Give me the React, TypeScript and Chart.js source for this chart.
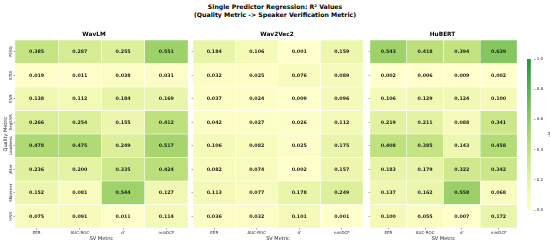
import React, { useEffect, useRef } from "react";
import { Chart, registerables } from "chart.js";

Chart.register(...registerables);

const W = 550;
const H = 245;
const FONT = "'DejaVu Sans', sans-serif";

const mainTitle = ["Single Predictor Regression: R\u00b2 Values", "(Quality Metric -> Speaker Verification Metric)"];
const qualityMetrics = ["PESQ", "STOI", "SNR", "SegSNR", "Loudness", "Jitter", "Shimmer", "HNR"];
const svMetrics = ["EER", "AUC-ROC", "d'", "minDCF"];
const modelNames = ["WavLM", "Wav2Vec2", "HuBERT"];

const wavlmValues = [
  [0.385, 0.287, 0.255, 0.551],
  [0.019, 0.011, 0.038, 0.031],
  [0.138, 0.112, 0.184, 0.169],
  [0.266, 0.254, 0.155, 0.412],
  [0.478, 0.475, 0.249, 0.517],
  [0.236, 0.2, 0.335, 0.424],
  [0.152, 0.081, 0.544, 0.127],
  [0.075, 0.091, 0.011, 0.114],
];
const wav2vec2Values = [
  [0.184, 0.106, 0.001, 0.159],
  [0.032, 0.025, 0.076, 0.089],
  [0.037, 0.024, 0.009, 0.096],
  [0.042, 0.027, 0.026, 0.112],
  [0.106, 0.082, 0.025, 0.175],
  [0.082, 0.074, 0.002, 0.157],
  [0.113, 0.077, 0.178, 0.249],
  [0.036, 0.032, 0.101, 0.001],
];
const hubertValues = [
  [0.543, 0.418, 0.394, 0.639],
  [0.002, 0.006, 0.009, 0.002],
  [0.106, 0.129, 0.124, 0.1],
  [0.219, 0.211, 0.088, 0.341],
  [0.408, 0.385, 0.143, 0.458],
  [0.183, 0.179, 0.322, 0.342],
  [0.137, 0.162, 0.558, 0.068],
  [0.1, 0.055, 0.007, 0.172],
];
const colorbarTicks = [0, 0.2, 0.4, 0.6, 0.8, 1.0];

const colorStops: [number, number[]][] = [
  [0.0, [255, 255, 204]],
  [0.1, [245, 250, 185]],
  [0.2, [229, 243, 165]],
  [0.3, [212, 235, 145]],
  [0.4, [193, 226, 127]],
  [0.5, [170, 215, 112]],
  [0.6, [145, 203, 100]],
  [0.7, [118, 190, 90]],
  [0.8, [90, 176, 80]],
  [0.9, [62, 162, 74]],
  [1.0, [35, 148, 70]],
];

function cmap(v: number): string {
  const t = Math.max(0, Math.min(1, v));
  for (let i = 0; i < colorStops.length - 1; i++) {
    const [a, ca] = colorStops[i];
    const [b, cb] = colorStops[i + 1];
    if (t <= b) {
      const f = (t - a) / (b - a);
      const c = ca.map((x, k) => Math.round(x + (cb[k] - x) * f));
      return `rgb(${c[0]},${c[1]},${c[2]})`;
    }
  }
  const c = colorStops[colorStops.length - 1][1];
  return `rgb(${c[0]},${c[1]},${c[2]})`;
}

// layout (pixels)
const panelBounds = [
  { left: 15, right: 188 },
  { left: 193, right: 363 },
  { left: 370, right: 517 },
];
const AREA_TOP = 40;
const AREA_BOTTOM = 228;
const X_AXIS_H = 15;
const TITLE_SIZE = 5.8;
const TITLE_PAD_BOTTOM = 2.5;
const TICK_SIZE = 4;

function annotPlugin(values: number[][]) {
  return {
    id: "annot",
    afterDatasetsDraw(chart: any) {
      const ctx = chart.ctx;
      ctx.save();
      ctx.font = `bold 4.8px ${FONT}`;
      ctx.fillStyle = "#1a1a1a";
      ctx.textAlign = "center";
      ctx.textBaseline = "middle";
      values.forEach((row, r) => {
        const meta = chart.getDatasetMeta(r);
        row.forEach((v, c) => {
          const el = meta.data[c];
          if (!el) return;
          const p = el.getCenterPoint();
          ctx.fillText(v.toFixed(3), p.x, p.y + 0.3);
        });
      });
      ctx.restore();
    },
  };
}

const yLabelPlugin = {
  id: "ylabels",
  afterDraw(chart: any) {
    const s = chart.scales.y;
    const ctx = chart.ctx;
    ctx.save();
    ctx.font = `${TICK_SIZE}px ${FONT}`;
    ctx.fillStyle = "#262626";
    ctx.textAlign = "center";
    ctx.textBaseline = "middle";
    qualityMetrics.forEach((q, i) => {
      const py = s.getPixelForValue(i + 0.5);
      ctx.save();
      ctx.translate(s.right - 4, py);
      ctx.rotate(-Math.PI / 2);
      ctx.fillText(q, 0, 0);
      ctx.restore();
    });
    ctx.restore();
  },
};

function makePanel(canvas: HTMLCanvasElement, title: string, values: number[][], idx: number) {
  const showY = idx === 0;
  const yW = showY ? 15 : 2;
  const { left, right } = panelBounds[idx];
  const titleBlock = TITLE_SIZE * 1.2 + TITLE_PAD_BOTTOM;
  return new Chart(canvas, {
    type: "bar",
    data: {
      labels: svMetrics,
      datasets: qualityMetrics.map((q, r) => ({
        label: q,
        data: svMetrics.map(() => [r, r + 1]),
        backgroundColor: values[r].map(cmap),
        borderColor: "#ffffff",
        borderWidth: 0.5,
        borderSkipped: false,
        barPercentage: 1,
        categoryPercentage: 1,
        grouped: false,
      })) as any,
    },
    options: {
      responsive: false,
      animation: false,
      devicePixelRatio: 1,
      events: [],
      layout: {
        padding: {
          left: left - yW,
          right: W - right,
          top: AREA_TOP - titleBlock,
          bottom: H - AREA_BOTTOM - X_AXIS_H,
        },
      },
      plugins: {
        legend: { display: false },
        tooltip: { enabled: false },
        title: {
          display: true,
          text: title,
          color: "#000",
          font: { family: FONT, size: TITLE_SIZE, weight: "bold" },
          padding: { top: 0, bottom: TITLE_PAD_BOTTOM },
        },
      },
      scales: {
        x: {
          type: "category",
          offset: true,
          border: { display: false },
          grid: {
            display: true,
            drawOnChartArea: false,
            drawTicks: true,
            tickLength: 1.5,
            offset: false,
            color: "#555",
            lineWidth: 0.5,
          },
          ticks: {
            font: { family: FONT, size: TICK_SIZE },
            color: "#262626",
            padding: 1.2,
            maxRotation: 0,
            minRotation: 0,
            autoSkip: false,
          },
          title: {
            display: true,
            text: "SV Metric",
            color: "#222",
            font: { family: FONT, size: 5 },
            padding: { top: 0, bottom: 1 },
          },
          afterFit: (s: any) => {
            s.height = X_AXIS_H;
          },
        },
        y: {
          type: "linear",
          min: 0,
          max: 8,
          reverse: true,
          border: { display: false },
          afterBuildTicks: (s: any) => {
            s.ticks = qualityMetrics.map((_, i) => ({ value: i + 0.5 }));
          },
          ticks: { display: false },
          grid: {
            display: true,
            drawOnChartArea: false,
            drawTicks: true,
            tickLength: 1.5,
            color: "#555",
            lineWidth: 0.5,
          },
          title: {
            display: showY,
            text: "Quality Metric",
            color: "#222",
            font: { family: FONT, size: 5 },
            padding: { top: 2.5, bottom: 0 },
          },
          afterFit: (s: any) => {
            s.width = yW;
          },
        },
      },
    } as any,
    plugins: showY ? [annotPlugin(values), yLabelPlugin] : [annotPlugin(values)],
  });
}

function makeColorbar(canvas: HTMLCanvasElement) {
  const cbLeft = 527;
  const cbRight = 534;
  const cbTop = 59;
  const cbBottom = 210;
  const axisW = 18;
  return new Chart(canvas, {
    type: "bar",
    data: {
      labels: ["R\u00b2"],
      datasets: [
        {
          data: [[colorbarTicks[0], colorbarTicks[colorbarTicks.length - 1]]],
          backgroundColor: (c: any) => {
            const chart = c.chart;
            const ys = chart.scales && chart.scales.y;
            if (!ys || !chart.chartArea) return cmap(0.5);
            const g = chart.ctx.createLinearGradient(0, ys.getPixelForValue(0), 0, ys.getPixelForValue(1));
            colorStops.forEach(([t]) => g.addColorStop(t, cmap(t)));
            return g;
          },
          borderWidth: 0,
          barPercentage: 1,
          categoryPercentage: 1,
        },
      ] as any,
    },
    options: {
      responsive: false,
      animation: false,
      devicePixelRatio: 1,
      events: [],
      layout: {
        padding: { left: cbLeft, right: W - cbRight - axisW, top: cbTop, bottom: H - cbBottom },
      },
      plugins: { legend: { display: false }, tooltip: { enabled: false }, title: { display: false } },
      scales: {
        x: { display: false, offset: false },
        y: {
          position: "right",
          min: 0,
          max: 1,
          border: { display: false },
          afterBuildTicks: (s: any) => {
            s.ticks = colorbarTicks.map((v) => ({ value: v }));
          },
          ticks: {
            font: { family: FONT, size: TICK_SIZE },
            color: "#262626",
            padding: 1.2,
            callback: (v: any) => Number(v).toFixed(1),
          },
          grid: {
            display: true,
            drawOnChartArea: false,
            drawTicks: true,
            tickLength: 1.5,
            color: "#555",
            lineWidth: 0.5,
          },
          title: {
            display: true,
            text: "R\u00b2",
            color: "#222",
            font: { family: FONT, size: 5 },
            padding: { top: 0, bottom: 1.2 },
          },
          afterFit: (s: any) => {
            s.width = axisW;
          },
        },
      },
    } as any,
  });
}

export default function App() {
  const refs = [useRef<HTMLCanvasElement>(null), useRef<HTMLCanvasElement>(null), useRef<HTMLCanvasElement>(null)];
  const cbRef = useRef<HTMLCanvasElement>(null);

  useEffect(() => {
    const allValues = [wavlmValues, wav2vec2Values, hubertValues];
    const charts: Chart[] = [];
    refs.forEach((r, i) => {
      if (r.current) charts.push(makePanel(r.current, modelNames[i], allValues[i], i));
    });
    if (cbRef.current) charts.push(makeColorbar(cbRef.current));
    return () => charts.forEach((c) => c.destroy());
  }, []);

  const canvasStyle: React.CSSProperties = { position: "absolute", left: 0, top: 0, width: W, height: H };

  return (
    <div style={{ position: "absolute", left: 0, top: 0, width: W, height: H, background: "#fff", overflow: "hidden" }}>
      <div
        style={{
          position: "absolute",
          left: 0,
          top: 2.6,
          width: W,
          textAlign: "center",
          fontFamily: FONT,
          fontWeight: "bold",
          fontSize: 6.2,
          lineHeight: "8.6px",
          color: "#000",
        }}
      >
        {mainTitle.map((t, i) => (
          <div key={i}>{t}</div>
        ))}
      </div>
      {refs.map((r, i) => (
        <canvas key={i} ref={r} width={W} height={H} style={canvasStyle} />
      ))}
      <canvas ref={cbRef} width={W} height={H} style={canvasStyle} />
    </div>
  );
}
